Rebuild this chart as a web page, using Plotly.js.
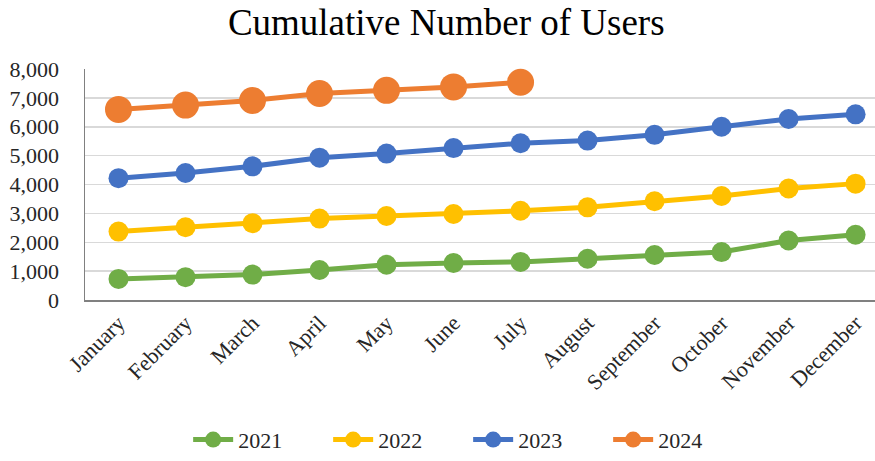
<!DOCTYPE html>
<html>
<head>
<meta charset="utf-8">
<script src="https://cdn.plot.ly/plotly-3.0.1.min.js"></script>
<style>html,body{margin:0;padding:0;background:#fff;}#chart{width:875px;height:461px;}</style>
</head>
<body>
<div id="chart"></div>
<script>
const months = ["January","February","March","April","May","June","July","August","September","October","November","December"];
const users2021 = [730, 790, 880, 1040, 1220, 1280, 1320, 1430, 1560, 1660, 2060, 2260];
const users2022 = [2370, 2520, 2660, 2820, 2910, 2980, 3090, 3210, 3420, 3600, 3860, 4030];
const users2023 = [4220, 4400, 4630, 4930, 5070, 5260, 5430, 5520, 5720, 6000, 6270, 6430];
const users2024 = [6600, 6750, 6910, 7150, 7260, 7380, 7540];
const seriesNames = ["2021","2022","2023","2024"];
const colors = ["#70ad47","#ffc000","#4472c4","#ed7d31"];
const markerSizes = [20, 20, 20, 27];
const data = [users2021, users2022, users2023, users2024].map((ys, i) => ({
  type: 'scatter', mode: 'lines+markers', name: seriesNames[i],
  x: months.slice(0, ys.length), y: ys,
  line: {color: colors[i], width: 5},
  marker: {color: colors[i], size: markerSizes[i]},
  cliponaxis: false
}));
const font = "Liberation Serif";
const layout = {
  width: 875, height: 461,
  margin: {l: 85, r: 0, t: 69, b: 159},
  paper_bgcolor: '#fff', plot_bgcolor: '#fff',
  title: {text: "Cumulative Number of Users", x: 0.51, xanchor: 'center', y: 0.953, yanchor: 'middle',
          font: {family: font, size: 37, color: '#000'}},
  xaxis: {type: 'category', range: [-0.5, 11.29], showgrid: false, showline: true, linecolor: '#808080', linewidth: 1.5,
          tickangle: -45, tickfont: {family: font, size: 22, color: '#262626'}, ticks: '', zeroline: false},
  yaxis: {range: [0, 8000], dtick: 1000, tickformat: ',d', showgrid: true, gridcolor: '#d9d9d9', gridwidth: 1.5,
          showline: true, linecolor: '#808080', linewidth: 1.5, zeroline: false, ticks: '', ticklabelstandoff: 20,
          tickfont: {family: font, size: 22, color: '#262626'}},
  legend: {orientation: 'h', x: 0.485, xanchor: 'center', y: -0.605, yanchor: 'middle',
           font: {family: font, size: 22, color: '#262626'}, itemwidth: 40, entrywidth: 85, entrywidthmode: 'pixels',
           traceorder: 'normal'},
  showlegend: true
};
Plotly.newPlot('chart', data, layout, {displayModeBar: false, staticPlot: true});
</script>
</body>
</html>
